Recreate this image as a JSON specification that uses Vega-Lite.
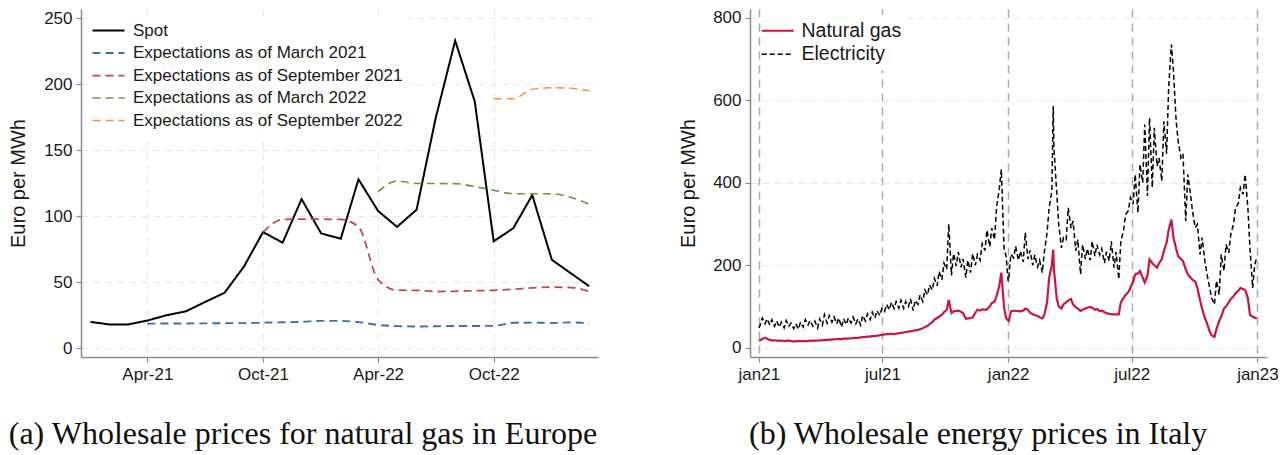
{
  "$schema": "https://vega.github.io/schema/vega-lite/v6.json",
  "background": "white",
  "padding": {"left": 8, "top": 8, "right": 5, "bottom": 4},
  "spacing": 80,
  "resolve": {
    "scale": {"color": "independent", "strokeDash": "independent", "strokeWidth": "independent"},
    "legend": {"color": "independent", "strokeDash": "independent", "strokeWidth": "independent"}
  },
  "config": {
    "view": {"stroke": null},
    "font": "Liberation Sans",
    "axis": {
      "domainColor": "#8c8c8c",
      "domainWidth": 1.5,
      "tickColor": "#8c8c8c",
      "tickSize": 5,
      "tickWidth": 1.2,
      "labelFont": "Liberation Sans",
      "labelFontSize": 17,
      "labelColor": "#1a1a1a",
      "labelPadding": 4,
      "titleFont": "Liberation Sans",
      "titleFontSize": 20,
      "titleFontWeight": "normal",
      "titleColor": "#1a1a1a",
      "gridColor": "#e6e6e6",
      "gridDash": [7, 5],
      "gridWidth": 1
    },
    "legend": {
      "labelFont": "Liberation Sans",
      "labelColor": "#1a1a1a",
      "labelLimit": 0,
      "symbolType": "M-4,0H4",
      "symbolSize": 64,
      "fillColor": "white",
      "padding": 6,
      "orient": "none"
    },
    "title": {"font": "Liberation Serif", "fontWeight": "normal", "color": "#111111"}
  },
  "hconcat": [
    {
      "width": 517,
      "height": 348,
      "title": {"text": "(a) Wholesale prices for natural gas in Europe", "orient": "bottom", "anchor": "middle", "frame": "bounds", "fontSize": 32, "offset": 37},
      "data": {"values": [
        {"m": "2021-01-01", "s": "Spot", "v": 20}, {"m": "2021-02-01", "s": "Spot", "v": 18}, {"m": "2021-03-01", "s": "Spot", "v": 18},
        {"m": "2021-04-01", "s": "Spot", "v": 21}, {"m": "2021-05-01", "s": "Spot", "v": 25}, {"m": "2021-06-01", "s": "Spot", "v": 28},
        {"m": "2021-07-01", "s": "Spot", "v": 35}, {"m": "2021-08-01", "s": "Spot", "v": 42}, {"m": "2021-09-01", "s": "Spot", "v": 62},
        {"m": "2021-10-01", "s": "Spot", "v": 88}, {"m": "2021-11-01", "s": "Spot", "v": 80}, {"m": "2021-12-01", "s": "Spot", "v": 113},
        {"m": "2022-01-01", "s": "Spot", "v": 87}, {"m": "2022-02-01", "s": "Spot", "v": 83}, {"m": "2022-03-01", "s": "Spot", "v": 128},
        {"m": "2022-04-01", "s": "Spot", "v": 104}, {"m": "2022-05-01", "s": "Spot", "v": 92}, {"m": "2022-06-01", "s": "Spot", "v": 105},
        {"m": "2022-07-01", "s": "Spot", "v": 174}, {"m": "2022-08-01", "s": "Spot", "v": 233}, {"m": "2022-09-01", "s": "Spot", "v": 187},
        {"m": "2022-10-01", "s": "Spot", "v": 81}, {"m": "2022-11-01", "s": "Spot", "v": 91}, {"m": "2022-12-01", "s": "Spot", "v": 116},
        {"m": "2023-01-01", "s": "Spot", "v": 67}, {"m": "2023-03-01", "s": "Spot", "v": 47},

        {"m": "2021-04-01", "s": "Expectations as of March 2021", "v": 18.6}, {"m": "2021-05-01", "s": "Expectations as of March 2021", "v": 18.8},
        {"m": "2021-06-01", "s": "Expectations as of March 2021", "v": 18.8}, {"m": "2021-07-01", "s": "Expectations as of March 2021", "v": 18.9},
        {"m": "2021-08-01", "s": "Expectations as of March 2021", "v": 19.0}, {"m": "2021-09-01", "s": "Expectations as of March 2021", "v": 19.1},
        {"m": "2021-10-01", "s": "Expectations as of March 2021", "v": 19.4}, {"m": "2021-11-01", "s": "Expectations as of March 2021", "v": 19.7},
        {"m": "2021-12-01", "s": "Expectations as of March 2021", "v": 20.0}, {"m": "2022-01-01", "s": "Expectations as of March 2021", "v": 20.8},
        {"m": "2022-02-01", "s": "Expectations as of March 2021", "v": 20.8}, {"m": "2022-03-01", "s": "Expectations as of March 2021", "v": 19.8},
        {"m": "2022-04-01", "s": "Expectations as of March 2021", "v": 17.7}, {"m": "2022-05-01", "s": "Expectations as of March 2021", "v": 16.8},
        {"m": "2022-06-01", "s": "Expectations as of March 2021", "v": 16.5}, {"m": "2022-07-01", "s": "Expectations as of March 2021", "v": 16.7},
        {"m": "2022-08-01", "s": "Expectations as of March 2021", "v": 16.9}, {"m": "2022-09-01", "s": "Expectations as of March 2021", "v": 16.9},
        {"m": "2022-10-01", "s": "Expectations as of March 2021", "v": 17.0}, {"m": "2022-11-01", "s": "Expectations as of March 2021", "v": 19.3},
        {"m": "2022-12-01", "s": "Expectations as of March 2021", "v": 19.4}, {"m": "2023-01-01", "s": "Expectations as of March 2021", "v": 19.2},
        {"m": "2023-02-01", "s": "Expectations as of March 2021", "v": 19.6}, {"m": "2023-03-01", "s": "Expectations as of March 2021", "v": 18.9},

        {"m": "2021-10-01", "s": "Expectations as of September 2021", "v": 88}, {"m": "2021-11-01", "s": "Expectations as of September 2021", "v": 97.6},
        {"m": "2021-12-01", "s": "Expectations as of September 2021", "v": 97.8}, {"m": "2022-01-01", "s": "Expectations as of September 2021", "v": 97.8},
        {"m": "2022-02-01", "s": "Expectations as of September 2021", "v": 97.6}, {"m": "2022-03-01", "s": "Expectations as of September 2021", "v": 92},
        {"m": "2022-04-01", "s": "Expectations as of September 2021", "v": 52}, {"m": "2022-05-01", "s": "Expectations as of September 2021", "v": 44},
        {"m": "2022-06-01", "s": "Expectations as of September 2021", "v": 43.9}, {"m": "2022-07-01", "s": "Expectations as of September 2021", "v": 43.0},
        {"m": "2022-08-01", "s": "Expectations as of September 2021", "v": 43.2}, {"m": "2022-09-01", "s": "Expectations as of September 2021", "v": 43.6},
        {"m": "2022-10-01", "s": "Expectations as of September 2021", "v": 43.9}, {"m": "2022-11-01", "s": "Expectations as of September 2021", "v": 44.7},
        {"m": "2022-12-01", "s": "Expectations as of September 2021", "v": 45.8}, {"m": "2023-01-01", "s": "Expectations as of September 2021", "v": 46.3},
        {"m": "2023-02-01", "s": "Expectations as of September 2021", "v": 46.0}, {"m": "2023-03-01", "s": "Expectations as of September 2021", "v": 43.0},

        {"m": "2022-04-01", "s": "Expectations as of March 2022", "v": 118.6}, {"m": "2022-05-01", "s": "Expectations as of March 2022", "v": 126.7},
        {"m": "2022-06-01", "s": "Expectations as of March 2022", "v": 124.8}, {"m": "2022-07-01", "s": "Expectations as of March 2022", "v": 124.8},
        {"m": "2022-08-01", "s": "Expectations as of March 2022", "v": 124.7}, {"m": "2022-09-01", "s": "Expectations as of March 2022", "v": 122.5},
        {"m": "2022-10-01", "s": "Expectations as of March 2022", "v": 119.7}, {"m": "2022-11-01", "s": "Expectations as of March 2022", "v": 117.1},
        {"m": "2022-12-01", "s": "Expectations as of March 2022", "v": 117.1}, {"m": "2023-01-01", "s": "Expectations as of March 2022", "v": 117.0},
        {"m": "2023-02-01", "s": "Expectations as of March 2022", "v": 114.2}, {"m": "2023-03-01", "s": "Expectations as of March 2022", "v": 109.0},

        {"m": "2022-10-01", "s": "Expectations as of September 2022", "v": 189.1}, {"m": "2022-11-01", "s": "Expectations as of September 2022", "v": 189.1},
        {"m": "2022-12-01", "s": "Expectations as of September 2022", "v": 196.2}, {"m": "2023-01-01", "s": "Expectations as of September 2022", "v": 197.4},
        {"m": "2023-02-01", "s": "Expectations as of September 2022", "v": 197.0}, {"m": "2023-03-01", "s": "Expectations as of September 2022", "v": 195.0}
      ]},
      "encoding": {
        "x": {
          "field": "m", "type": "temporal", "title": null,
          "scale": {"type": "utc", "domain": [{"year": 2020, "month": 12, "date": 17, "utc": true}, {"year": 2023, "month": 3, "date": 15, "utc": true}]},
          "axis": {
            "values": [{"year": 2021, "month": 4, "date": 1, "utc": true}, {"year": 2021, "month": 10, "date": 1, "utc": true}, {"year": 2022, "month": 4, "date": 1, "utc": true}, {"year": 2022, "month": 10, "date": 1, "utc": true}],
            "labelExpr": "utcFormat(datum.value, '%b-%y')",
            "labelFontSize": 17,
            "grid": true
          }
        },
        "y": {
          "field": "v", "type": "quantitative", "title": "Euro per MWh",
          "scale": {"domain": [-6.6, 257], "nice": false, "zero": false},
          "axis": {"values": [0, 50, 100, 150, 200, 250], "grid": true, "minExtent": 38, "maxExtent": 38, "titlePadding": 15, "titleFontSize": 20, "labelFontSize": 17}
        },
        "color": {
          "field": "s", "type": "nominal",
          "scale": {
            "domain": ["Spot", "Expectations as of March 2021", "Expectations as of September 2021", "Expectations as of March 2022", "Expectations as of September 2022"],
            "range": ["#000000", "#3f6fa0", "#b74a52", "#6a9446", "#f0962c"]
          },
          "legend": {"title": null, "legendX": 13, "legendY": 7, "labelFontSize": 17, "rowPadding": 4.5, "labelOffset": 16}
        },
        "strokeDash": {
          "field": "s", "type": "nominal",
          "scale": {
            "domain": ["Spot", "Expectations as of March 2021", "Expectations as of September 2021", "Expectations as of March 2022", "Expectations as of September 2022"],
            "range": [[1, 0], [8, 5], [8, 5], [8, 5], [8, 5]]
          },
          "legend": {"title": null}
        },
        "strokeWidth": {
          "field": "s", "type": "nominal",
          "scale": {
            "domain": ["Spot", "Expectations as of March 2021", "Expectations as of September 2021", "Expectations as of March 2022", "Expectations as of September 2022"],
            "range": [2, 1.5, 1.5, 1.5, 1.5]
          },
          "legend": {"title": null}
        }
      },
      "layer": [
        {"transform": [{"filter": "datum.s === 'Spot'"}], "mark": {"type": "line", "interpolate": "linear"}},
        {"transform": [{"filter": "datum.s !== 'Spot'"}], "mark": {"type": "line", "interpolate": "monotone"}}
      ]
    },
    {
      "width": 517,
      "height": 348,
      "title": {"text": "(b) Wholesale energy prices in Italy", "orient": "bottom", "anchor": "middle", "frame": "bounds", "fontSize": 32, "offset": 37},
      "data": {"values": [
        {"d": "2021-01-01", "Natural gas": 17, "Electricity": 48}, {"d": "2021-01-03", "Natural gas": 18, "Electricity": 55},
        {"d": "2021-01-06", "Natural gas": 21, "Electricity": 72}, {"d": "2021-01-10", "Natural gas": 24, "Electricity": 58},
        {"d": "2021-01-13", "Natural gas": 22, "Electricity": 70}, {"d": "2021-01-17", "Natural gas": 19, "Electricity": 55},
        {"d": "2021-01-20", "Natural gas": 18, "Electricity": 68}, {"d": "2021-01-24", "Natural gas": 18, "Electricity": 52},
        {"d": "2021-01-27", "Natural gas": 17, "Electricity": 65}, {"d": "2021-01-31", "Natural gas": 17, "Electricity": 50},
        {"d": "2021-02-03", "Natural gas": 17, "Electricity": 62}, {"d": "2021-02-07", "Natural gas": 16, "Electricity": 48},
        {"d": "2021-02-10", "Natural gas": 17, "Electricity": 66}, {"d": "2021-02-14", "Natural gas": 17, "Electricity": 52},
        {"d": "2021-02-17", "Natural gas": 16, "Electricity": 60}, {"d": "2021-02-21", "Natural gas": 15, "Electricity": 46},
        {"d": "2021-02-24", "Natural gas": 16, "Electricity": 58}, {"d": "2021-02-28", "Natural gas": 16, "Electricity": 45},
        {"d": "2021-03-03", "Natural gas": 16, "Electricity": 62}, {"d": "2021-03-07", "Natural gas": 16, "Electricity": 50},
        {"d": "2021-03-10", "Natural gas": 16, "Electricity": 68}, {"d": "2021-03-14", "Natural gas": 16, "Electricity": 55},
        {"d": "2021-03-17", "Natural gas": 17, "Electricity": 66}, {"d": "2021-03-21", "Natural gas": 17, "Electricity": 52},
        {"d": "2021-03-24", "Natural gas": 17, "Electricity": 64}, {"d": "2021-03-28", "Natural gas": 17, "Electricity": 48},
        {"d": "2021-03-31", "Natural gas": 18, "Electricity": 70}, {"d": "2021-04-04", "Natural gas": 18, "Electricity": 55},
        {"d": "2021-04-07", "Natural gas": 19, "Electricity": 80}, {"d": "2021-04-11", "Natural gas": 19, "Electricity": 60},
        {"d": "2021-04-14", "Natural gas": 19, "Electricity": 78}, {"d": "2021-04-18", "Natural gas": 20, "Electricity": 62},
        {"d": "2021-04-21", "Natural gas": 20, "Electricity": 75}, {"d": "2021-04-25", "Natural gas": 21, "Electricity": 58},
        {"d": "2021-04-28", "Natural gas": 21, "Electricity": 72}, {"d": "2021-05-02", "Natural gas": 21, "Electricity": 50},
        {"d": "2021-05-05", "Natural gas": 22, "Electricity": 70}, {"d": "2021-05-09", "Natural gas": 22, "Electricity": 56},
        {"d": "2021-05-12", "Natural gas": 22, "Electricity": 72}, {"d": "2021-05-16", "Natural gas": 23, "Electricity": 60},
        {"d": "2021-05-19", "Natural gas": 23, "Electricity": 74}, {"d": "2021-05-23", "Natural gas": 24, "Electricity": 58},
        {"d": "2021-05-26", "Natural gas": 24, "Electricity": 70}, {"d": "2021-05-30", "Natural gas": 25, "Electricity": 55},
        {"d": "2021-06-02", "Natural gas": 26, "Electricity": 78}, {"d": "2021-06-06", "Natural gas": 26, "Electricity": 65},
        {"d": "2021-06-09", "Natural gas": 27, "Electricity": 82}, {"d": "2021-06-13", "Natural gas": 27, "Electricity": 68},
        {"d": "2021-06-16", "Natural gas": 28, "Electricity": 86}, {"d": "2021-06-20", "Natural gas": 28, "Electricity": 72},
        {"d": "2021-06-23", "Natural gas": 29, "Electricity": 90}, {"d": "2021-06-27", "Natural gas": 30, "Electricity": 78},
        {"d": "2021-06-30", "Natural gas": 31, "Electricity": 95}, {"d": "2021-07-04", "Natural gas": 32, "Electricity": 88},
        {"d": "2021-07-07", "Natural gas": 33, "Electricity": 105}, {"d": "2021-07-11", "Natural gas": 33, "Electricity": 92},
        {"d": "2021-07-14", "Natural gas": 34, "Electricity": 110}, {"d": "2021-07-18", "Natural gas": 33, "Electricity": 95},
        {"d": "2021-07-21", "Natural gas": 34, "Electricity": 112}, {"d": "2021-07-25", "Natural gas": 35, "Electricity": 96},
        {"d": "2021-07-28", "Natural gas": 36, "Electricity": 115}, {"d": "2021-08-01", "Natural gas": 37, "Electricity": 95},
        {"d": "2021-08-04", "Natural gas": 38, "Electricity": 112}, {"d": "2021-08-08", "Natural gas": 39, "Electricity": 100},
        {"d": "2021-08-11", "Natural gas": 40, "Electricity": 118}, {"d": "2021-08-15", "Natural gas": 41, "Electricity": 90},
        {"d": "2021-08-18", "Natural gas": 42, "Electricity": 115}, {"d": "2021-08-22", "Natural gas": 43, "Electricity": 105},
        {"d": "2021-08-25", "Natural gas": 45, "Electricity": 128}, {"d": "2021-08-29", "Natural gas": 47, "Electricity": 112},
        {"d": "2021-09-01", "Natural gas": 50, "Electricity": 140}, {"d": "2021-09-05", "Natural gas": 53, "Electricity": 128},
        {"d": "2021-09-08", "Natural gas": 57, "Electricity": 152}, {"d": "2021-09-12", "Natural gas": 62, "Electricity": 140},
        {"d": "2021-09-15", "Natural gas": 68, "Electricity": 168}, {"d": "2021-09-19", "Natural gas": 72, "Electricity": 150},
        {"d": "2021-09-22", "Natural gas": 75, "Electricity": 185}, {"d": "2021-09-26", "Natural gas": 80, "Electricity": 165},
        {"d": "2021-09-29", "Natural gas": 86, "Electricity": 205}, {"d": "2021-10-03", "Natural gas": 92, "Electricity": 190},
        {"d": "2021-10-06", "Natural gas": 116, "Electricity": 300}, {"d": "2021-10-10", "Natural gas": 84, "Electricity": 175},
        {"d": "2021-10-13", "Natural gas": 88, "Electricity": 228}, {"d": "2021-10-17", "Natural gas": 89, "Electricity": 198},
        {"d": "2021-10-20", "Natural gas": 90, "Electricity": 232}, {"d": "2021-10-24", "Natural gas": 87, "Electricity": 195},
        {"d": "2021-10-27", "Natural gas": 84, "Electricity": 215}, {"d": "2021-10-31", "Natural gas": 70, "Electricity": 170},
        {"d": "2021-11-03", "Natural gas": 71, "Electricity": 212}, {"d": "2021-11-07", "Natural gas": 72, "Electricity": 182},
        {"d": "2021-11-10", "Natural gas": 73, "Electricity": 228}, {"d": "2021-11-14", "Natural gas": 85, "Electricity": 200},
        {"d": "2021-11-17", "Natural gas": 92, "Electricity": 226}, {"d": "2021-11-21", "Natural gas": 90, "Electricity": 212},
        {"d": "2021-11-24", "Natural gas": 93, "Electricity": 252}, {"d": "2021-11-28", "Natural gas": 92, "Electricity": 236},
        {"d": "2021-12-01", "Natural gas": 93, "Electricity": 285}, {"d": "2021-12-05", "Natural gas": 100, "Electricity": 245},
        {"d": "2021-12-08", "Natural gas": 108, "Electricity": 290}, {"d": "2021-12-12", "Natural gas": 112, "Electricity": 262},
        {"d": "2021-12-15", "Natural gas": 125, "Electricity": 340}, {"d": "2021-12-19", "Natural gas": 150, "Electricity": 385},
        {"d": "2021-12-22", "Natural gas": 182, "Electricity": 432}, {"d": "2021-12-26", "Natural gas": 97, "Electricity": 240},
        {"d": "2021-12-29", "Natural gas": 72, "Electricity": 222}, {"d": "2022-01-01", "Natural gas": 66, "Electricity": 162},
        {"d": "2022-01-02", "Natural gas": 65, "Electricity": 170}, {"d": "2022-01-05", "Natural gas": 88, "Electricity": 227},
        {"d": "2022-01-09", "Natural gas": 90, "Electricity": 218}, {"d": "2022-01-12", "Natural gas": 89, "Electricity": 246},
        {"d": "2022-01-16", "Natural gas": 89, "Electricity": 212}, {"d": "2022-01-19", "Natural gas": 88, "Electricity": 234},
        {"d": "2022-01-23", "Natural gas": 90, "Electricity": 208}, {"d": "2022-01-26", "Natural gas": 95, "Electricity": 279},
        {"d": "2022-01-30", "Natural gas": 92, "Electricity": 215}, {"d": "2022-02-02", "Natural gas": 85, "Electricity": 236},
        {"d": "2022-02-06", "Natural gas": 81, "Electricity": 200}, {"d": "2022-02-09", "Natural gas": 79, "Electricity": 225},
        {"d": "2022-02-13", "Natural gas": 77, "Electricity": 196}, {"d": "2022-02-16", "Natural gas": 74, "Electricity": 212},
        {"d": "2022-02-20", "Natural gas": 71, "Electricity": 182}, {"d": "2022-02-23", "Natural gas": 80, "Electricity": 232},
        {"d": "2022-02-27", "Natural gas": 110, "Electricity": 279}, {"d": "2022-03-02", "Natural gas": 170, "Electricity": 339},
        {"d": "2022-03-06", "Natural gas": 200, "Electricity": 380}, {"d": "2022-03-08", "Natural gas": 238, "Electricity": 586},
        {"d": "2022-03-09", "Natural gas": 190, "Electricity": 485}, {"d": "2022-03-13", "Natural gas": 121, "Electricity": 380},
        {"d": "2022-03-16", "Natural gas": 100, "Electricity": 299}, {"d": "2022-03-20", "Natural gas": 95, "Electricity": 242},
        {"d": "2022-03-23", "Natural gas": 105, "Electricity": 267}, {"d": "2022-03-27", "Natural gas": 110, "Electricity": 262},
        {"d": "2022-03-30", "Natural gas": 115, "Electricity": 339}, {"d": "2022-04-03", "Natural gas": 118, "Electricity": 290},
        {"d": "2022-04-06", "Natural gas": 105, "Electricity": 307}, {"d": "2022-04-10", "Natural gas": 98, "Electricity": 235},
        {"d": "2022-04-13", "Natural gas": 95, "Electricity": 262}, {"d": "2022-04-17", "Natural gas": 89, "Electricity": 178},
        {"d": "2022-04-20", "Natural gas": 92, "Electricity": 250}, {"d": "2022-04-24", "Natural gas": 95, "Electricity": 215},
        {"d": "2022-04-27", "Natural gas": 97, "Electricity": 240}, {"d": "2022-05-01", "Natural gas": 99, "Electricity": 212},
        {"d": "2022-05-04", "Natural gas": 97, "Electricity": 258}, {"d": "2022-05-08", "Natural gas": 92, "Electricity": 222},
        {"d": "2022-05-11", "Natural gas": 94, "Electricity": 250}, {"d": "2022-05-15", "Natural gas": 89, "Electricity": 225},
        {"d": "2022-05-18", "Natural gas": 90, "Electricity": 240}, {"d": "2022-05-22", "Natural gas": 86, "Electricity": 205},
        {"d": "2022-05-25", "Natural gas": 84, "Electricity": 232}, {"d": "2022-05-29", "Natural gas": 82, "Electricity": 210},
        {"d": "2022-06-01", "Natural gas": 81, "Electricity": 258}, {"d": "2022-06-05", "Natural gas": 81, "Electricity": 194},
        {"d": "2022-06-08", "Natural gas": 81, "Electricity": 232}, {"d": "2022-06-12", "Natural gas": 81, "Electricity": 166},
        {"d": "2022-06-15", "Natural gas": 110, "Electricity": 258}, {"d": "2022-06-19", "Natural gas": 121, "Electricity": 285},
        {"d": "2022-06-22", "Natural gas": 128, "Electricity": 323}, {"d": "2022-06-26", "Natural gas": 135, "Electricity": 332},
        {"d": "2022-06-29", "Natural gas": 145, "Electricity": 364}, {"d": "2022-07-03", "Natural gas": 160, "Electricity": 348},
        {"d": "2022-07-06", "Natural gas": 178, "Electricity": 420}, {"d": "2022-07-10", "Natural gas": 180, "Electricity": 327},
        {"d": "2022-07-13", "Natural gas": 186, "Electricity": 444}, {"d": "2022-07-17", "Natural gas": 170, "Electricity": 400},
        {"d": "2022-07-20", "Natural gas": 158, "Electricity": 541}, {"d": "2022-07-24", "Natural gas": 175, "Electricity": 368},
        {"d": "2022-07-27", "Natural gas": 214, "Electricity": 557}, {"d": "2022-07-31", "Natural gas": 205, "Electricity": 388},
        {"d": "2022-08-03", "Natural gas": 200, "Electricity": 533}, {"d": "2022-08-07", "Natural gas": 194, "Electricity": 440},
        {"d": "2022-08-10", "Natural gas": 205, "Electricity": 460}, {"d": "2022-08-14", "Natural gas": 215, "Electricity": 404},
        {"d": "2022-08-17", "Natural gas": 234, "Electricity": 549}, {"d": "2022-08-21", "Natural gas": 255, "Electricity": 470},
        {"d": "2022-08-24", "Natural gas": 285, "Electricity": 630}, {"d": "2022-08-28", "Natural gas": 311, "Electricity": 735},
        {"d": "2022-08-31", "Natural gas": 267, "Electricity": 671}, {"d": "2022-09-04", "Natural gas": 240, "Electricity": 549},
        {"d": "2022-09-07", "Natural gas": 222, "Electricity": 500}, {"d": "2022-09-11", "Natural gas": 215, "Electricity": 460},
        {"d": "2022-09-14", "Natural gas": 210, "Electricity": 470}, {"d": "2022-09-18", "Natural gas": 190, "Electricity": 307},
        {"d": "2022-09-21", "Natural gas": 178, "Electricity": 420}, {"d": "2022-09-25", "Natural gas": 170, "Electricity": 372},
        {"d": "2022-09-28", "Natural gas": 165, "Electricity": 330}, {"d": "2022-10-02", "Natural gas": 160, "Electricity": 291},
        {"d": "2022-10-05", "Natural gas": 145, "Electricity": 299}, {"d": "2022-10-09", "Natural gas": 115, "Electricity": 226},
        {"d": "2022-10-12", "Natural gas": 95, "Electricity": 267}, {"d": "2022-10-16", "Natural gas": 72, "Electricity": 210},
        {"d": "2022-10-19", "Natural gas": 60, "Electricity": 180}, {"d": "2022-10-23", "Natural gas": 40, "Electricity": 145},
        {"d": "2022-10-26", "Natural gas": 30, "Electricity": 120}, {"d": "2022-10-30", "Natural gas": 26, "Electricity": 105},
        {"d": "2022-11-02", "Natural gas": 45, "Electricity": 162}, {"d": "2022-11-06", "Natural gas": 65, "Electricity": 129},
        {"d": "2022-11-09", "Natural gas": 75, "Electricity": 226}, {"d": "2022-11-13", "Natural gas": 95, "Electricity": 186},
        {"d": "2022-11-16", "Natural gas": 100, "Electricity": 250}, {"d": "2022-11-20", "Natural gas": 110, "Electricity": 230},
        {"d": "2022-11-23", "Natural gas": 118, "Electricity": 275}, {"d": "2022-11-27", "Natural gas": 125, "Electricity": 300},
        {"d": "2022-11-30", "Natural gas": 132, "Electricity": 339}, {"d": "2022-12-04", "Natural gas": 138, "Electricity": 350},
        {"d": "2022-12-07", "Natural gas": 145, "Electricity": 388}, {"d": "2022-12-11", "Natural gas": 142, "Electricity": 372},
        {"d": "2022-12-14", "Natural gas": 140, "Electricity": 420}, {"d": "2022-12-18", "Natural gas": 120, "Electricity": 339},
        {"d": "2022-12-21", "Natural gas": 80, "Electricity": 242}, {"d": "2022-12-25", "Natural gas": 75, "Electricity": 145},
        {"d": "2022-12-28", "Natural gas": 73, "Electricity": 202}, {"d": "2022-12-31", "Natural gas": 71, "Electricity": 218}
      ]},
      "transform": [{"fold": ["Natural gas", "Electricity"], "as": ["series", "price"]}],
      "mark": {"type": "line", "interpolate": "linear"},
      "encoding": {
        "x": {
          "field": "d", "type": "temporal", "title": null,
          "scale": {"type": "utc", "domain": [{"year": 2020, "month": 12, "date": 19, "utc": true}, {"year": 2023, "month": 1, "date": 15, "utc": true}]},
          "axis": {
            "values": [{"year": 2021, "month": 1, "date": 1, "utc": true}, {"year": 2021, "month": 7, "date": 1, "utc": true}, {"year": 2022, "month": 1, "date": 1, "utc": true}, {"year": 2022, "month": 7, "date": 1, "utc": true}, {"year": 2023, "month": 1, "date": 1, "utc": true}],
            "labelExpr": "lower(utcFormat(datum.value, '%b%y'))",
            "labelFontSize": 17,
            "grid": true, "gridColor": "#a9a9a9", "gridDash": [8, 6], "gridWidth": 1.5
          }
        },
        "y": {
          "field": "price", "type": "quantitative", "title": "Euro per MWh",
          "scale": {"domain": [-22.5, 821], "nice": false, "zero": false},
          "axis": {"values": [0, 200, 400, 600, 800], "grid": true, "minExtent": 38, "maxExtent": 38, "titlePadding": 14, "titleFontSize": 20, "labelFontSize": 17}
        },
        "color": {
          "field": "series", "type": "nominal",
          "scale": {"domain": ["Natural gas", "Electricity"], "range": ["#cc1440", "#000000"]},
          "legend": {"title": null, "legendX": 12, "legendY": 6, "labelFontSize": 19.5, "rowPadding": 2.5, "labelOffset": 14}
        },
        "strokeDash": {
          "field": "series", "type": "nominal",
          "scale": {"domain": ["Natural gas", "Electricity"], "range": [[1, 0], [5, 3]]},
          "legend": {"title": null}
        },
        "strokeWidth": {
          "field": "series", "type": "nominal",
          "scale": {"domain": ["Natural gas", "Electricity"], "range": [2.2, 1.5]},
          "legend": {"title": null}
        }
      }
    }
  ]
}
